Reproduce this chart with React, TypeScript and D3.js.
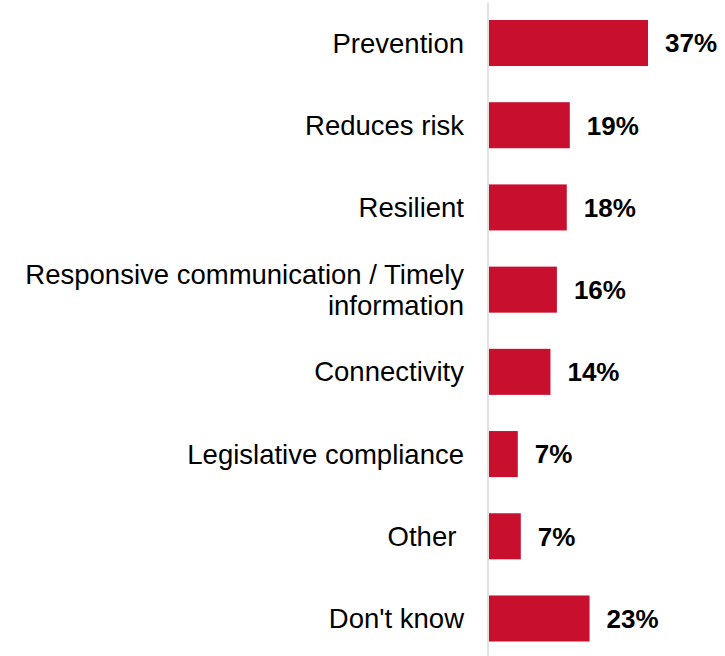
import { useEffect, useRef } from "react";
import * as d3 from "d3";

const categories = [
  "Prevention",
  "Reduces risk",
  "Resilient",
  "Responsive communication / Timely information",
  "Connectivity",
  "Legislative compliance",
  "Other",
  "Don't know",
];
// label lines (the long one wraps onto two lines; "Other " keeps its trailing space)
const labelLines = [
  ["Prevention"],
  ["Reduces risk"],
  ["Resilient"],
  ["Responsive communication / Timely", "information"],
  ["Connectivity"],
  ["Legislative compliance"],
  ["Other "],
  ["Don't know"],
];
const values = [37, 18.8, 18.1, 15.8, 14.3, 6.7, 7.4, 23.4];
const valueLabels = ["37%", "19%", "18%", "16%", "14%", "7%", "7%", "23%"];

export default function App() {
  const svgRef = useRef<SVGSVGElement>(null);

  useEffect(() => {
    if (!svgRef.current) return;
    const W = 725;
    const H = 656;
    const barColor = "#c8102e";
    const axisX = 488;

    const svg = d3.select(svgRef.current);
    svg.selectAll("*").remove();

    const x = d3.scaleLinear().domain([0, 37]).range([489, 648]);
    const y = d3
      .scaleBand<string>()
      .domain(categories)
      .range([1.9, 659.6])
      .paddingInner(0.44)
      .paddingOuter(0.22);

    // bars
    svg.append("g")
      .selectAll("rect")
      .data(categories)
      .enter()
      .append("rect")
      .attr("x", x(0))
      .attr("y", (d) => y(d)!)
      .attr("width", (_d, i) => x(values[i]) - x(0))
      .attr("height", y.bandwidth())
      .attr("fill", barColor);

    // vertical axis line
    svg.append("line")
      .attr("x1", axisX).attr("x2", axisX)
      .attr("y1", 3).attr("y2", H)
      .attr("stroke", "#d9d9d9")
      .attr("stroke-width", 1.5);

    // category labels
    const lineH = 31;
    const labels = svg.append("g")
      .selectAll("text")
      .data(categories)
      .enter()
      .append("text")
      .attr("text-anchor", "end")
      .attr("font-family", "'Liberation Sans', Arial, sans-serif")
      .attr("font-size", 27.5)
      .attr("fill", "#000")
      .style("white-space", "pre");
    labels.each(function (d, i) {
      const lines = labelLines[i];
      const cy = y(d)! + y.bandwidth() / 2;
      const top = cy - ((lines.length - 1) * lineH) / 2;
      const t = d3.select(this);
      lines.forEach((ln, j) => {
        t.append("tspan")
          .attr("x", 464)
          .attr("y", top + j * lineH)
          .attr("dy", "0.35em")
          .text(ln);
      });
    });

    // value labels
    svg.append("g")
      .selectAll("text")
      .data(categories)
      .enter()
      .append("text")
      .attr("x", (_d, i) => x(values[i]) + 17)
      .attr("y", (d) => y(d)! + y.bandwidth() / 2)
      .attr("dy", "0.36em")
      .attr("font-family", "'Liberation Sans', Arial, sans-serif")
      .attr("font-size", 26)
      .attr("font-weight", "bold")
      .attr("fill", "#000")
      .text((_d, i) => valueLabels[i]);

    svg.attr("width", W).attr("height", H);
  }, []);

  return (
    <svg
      ref={svgRef}
      width={725}
      height={656}
      style={{ position: "absolute", left: 0, top: 0, background: "#fff" }}
    />
  );
}
